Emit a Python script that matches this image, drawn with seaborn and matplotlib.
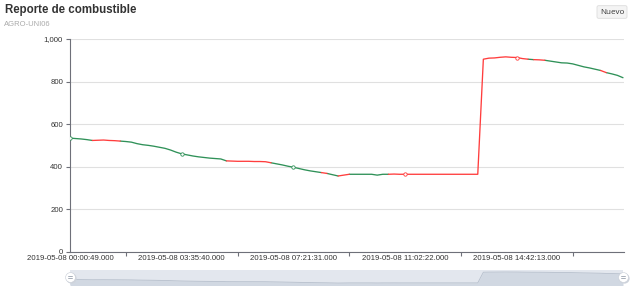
import numpy as np
import pandas as pd
import matplotlib
matplotlib.use("Agg")
import matplotlib.pyplot as plt
import seaborn as sns

# ---------------- data ----------------
valores = [
    534, 532, 530, 527, 523, 524, 525, 523, 522, 520,
    518, 515, 508, 503, 500, 496, 491, 486, 478, 468,
    460, 455, 450, 446, 443, 440, 438, 436, 427, 426,
    425, 425, 425, 424, 424, 423, 418, 413, 408, 402,
    397, 391, 385, 380, 376, 372, 368, 362, 356, 360,
    364, 364, 364, 364, 364, 360, 364, 364, 365, 364,
    364, 364, 364, 364, 364, 364, 364, 364, 364, 364,
    364, 364, 364, 364, 905, 910, 911, 914, 916, 914,
    913, 908, 905, 903, 902, 900, 896, 892, 888, 887,
    883, 876, 869, 864, 858, 852, 842, 836, 829, 818,
]
# 1 = red segment (starting at that point), 0 = green segment
estado = [
    0, 0, 0, 0, 1, 1, 1, 1, 1, 0,
    0, 0, 0, 0, 0, 0, 0, 0, 0, 0,
    0, 0, 0, 0, 0, 0, 0, 0, 1, 1,
    1, 1, 1, 1, 1, 1, 0, 0, 0, 0,
    0, 0, 0, 0, 0, 1, 0, 0, 1, 1,
    0, 0, 0, 0, 0, 0, 0, 1, 1, 1,
    1, 1, 1, 1, 1, 1, 1, 1, 1, 1,
    1, 1, 1, 1, 1, 1, 1, 1, 1, 1,
    1, 1, 0, 1, 1, 0, 0, 0, 0, 0,
    0, 0, 0, 0, 0, 1, 0, 0, 0, 0,
]
etiquetas = [
    "2019-05-08 00:00:49.000",
    "2019-05-08 03:35:40.000",
    "2019-05-08 07:21:31.000",
    "2019-05-08 11:02:22.000",
    "2019-05-08 14:42:13.000",
]
paso_etiqueta = 20
titulo = "Reporte de combustible"
subtitulo = "AGRO-UNI06"

ROJO = "#ff3d3d"
VERDE = "#2f9158"

# build continuous coloured runs
rows = []
n = len(valores)
unit = 0
i = 0
while i < n - 1:
    c = estado[i]
    j = i
    while j + 1 < n - 1 and estado[j + 1] == c:
        j += 1
    for k in range(i, j + 2):
        rows.append({"idx": k, "valor": valores[k], "unit": unit,
                     "color": "rojo" if c else "verde"})
    unit += 1
    i = j + 1
df = pd.DataFrame(rows)

# ---------------- figure ----------------
sns.set_theme(style="white")
plt.rcParams["font.family"] = ["Liberation Sans", "DejaVu Sans"]

W, H = 631, 289
fig = plt.figure(figsize=(W / 100, H / 100), dpi=100)
L, R, T, B = 70, 624, 39, 251.7
ax = fig.add_axes([L / W, 1 - B / H, (R - L) / W, (B - T) / H])

sns.lineplot(data=df, x="idx", y="valor", units="unit", hue="color",
             estimator=None, palette={"rojo": ROJO, "verde": VERDE},
             linewidth=0.95, legend=False, ax=ax, sort=False)

# hollow symbols at labelled points
mk = pd.DataFrame({"idx": list(range(0, n, paso_etiqueta))})
mk["valor"] = [valores[k] for k in mk["idx"]]
mk["color"] = [ROJO if estado[k] else VERDE for k in mk["idx"]]
for _, r in mk.iterrows():
    ax.scatter([r["idx"]], [r["valor"]], s=6, facecolor="white",
               edgecolor=r["color"], linewidth=0.6, zorder=5)

ax.set_xlim(0, (R - L) / ((623 - 70) / (n - 1)))
ax.set_ylim(0, 1000)
ax.set_yticks([0, 200, 400, 600, 800, 1000])
ax.set_yticklabels(["0", "200", "400", "600", "800", "1,000"])
ax.set_xticks(list(range(0, n, paso_etiqueta)))
ax.set_xticklabels(etiquetas)
ax.set_xticks(list(range(paso_etiqueta // 2, n, paso_etiqueta)), minor=True)
ax.set_xlabel("")
ax.set_ylabel("")
ax.grid(axis="y", color="#e0e0e0", linewidth=0.8)
ax.set_axisbelow(True)
for s in ["top", "right"]:
    ax.spines[s].set_visible(False)
for s in ["left", "bottom"]:
    ax.spines[s].set_color("#6e7079")
    ax.spines[s].set_linewidth(0.8)
ax.tick_params(axis="y", which="major", length=3, width=0.8, color="#6e7079",
               labelsize=5.6, labelcolor="#333333", pad=2, left=True)
ax.tick_params(axis="x", which="major", length=0, labelsize=5.6,
               labelcolor="#333333", pad=2.5, bottom=True)
ax.tick_params(axis="x", which="minor", length=3, width=0.8, color="#6e7079",
               bottom=True)

# titles
fig.text(5 / W, 1 - 10 / H, titulo, fontsize=8.3, fontweight="bold",
         color="#333333", va="center", ha="left")
fig.text(4 / W, 1 - 25 / H, subtitulo, fontsize=5.5, color="#aaaaaa",
         va="center", ha="left")

# "Nuevo" button
fig.text(612 / W, 1 - 12 / H, "Nuevo", fontsize=5.8, color="#333333",
         ha="center", va="center", family=["Open Sans", "DejaVu Sans"],
         bbox=dict(boxstyle="round,pad=0.35,rounding_size=0.2",
                   facecolor="#f4f4f4", edgecolor="#dddddd", linewidth=0.6))

# data-zoom slider
SL, SR, ST, SB = 70, 623, 269.5, 285
sax = fig.add_axes([SL / W, 1 - SB / H, (SR - SL) / W, (SB - ST) / H])
sax.set_facecolor("#e3e7ee")
sns.lineplot(x=list(range(n)), y=valores, ax=sax, color="#b6bfcc",
             linewidth=0.6)
sax.fill_between(list(range(n)), valores, 0, color="#d1d8e2", linewidth=0)
sax.set_xlim(0, n - 1)
sax.set_ylim(258, 1041)
sax.set_xticks([])
sax.set_yticks([])
for s in sax.spines.values():
    s.set_visible(False)

hax = fig.add_axes([0, 0, 1, 1], facecolor="none")
hax.set_xlim(0, W)
hax.set_ylim(H, 0)
hax.axis("off")
for hx in (SL, SR):
    hax.scatter([hx + 0.6], [277.8], s=55, color="#cfd4dc", zorder=3,
                linewidth=0)
    hax.scatter([hx], [277], s=50, facecolor="white", edgecolor="#c8cdd6",
                linewidth=0.4, zorder=4)
    hax.plot([hx - 1.6, hx + 1.6], [275.8, 275.8], color="#9aa2ae",
             linewidth=0.6, zorder=5)
    hax.plot([hx - 1.6, hx + 1.6], [278.2, 278.2], color="#9aa2ae",
             linewidth=0.6, zorder=5)

fig.savefig("out.png", dpi=100)
